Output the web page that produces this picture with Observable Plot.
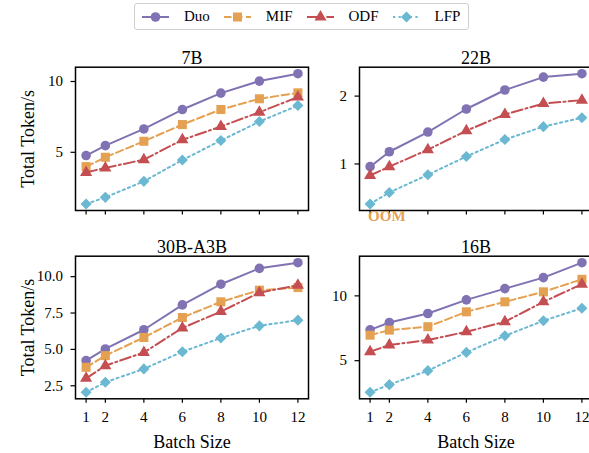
<!DOCTYPE html>
<html><head><meta charset="utf-8">
<script src="https://cdn.jsdelivr.net/npm/d3@7"></script>
<script src="https://cdn.jsdelivr.net/npm/@observablehq/plot@0.6"></script>
<style>
body{margin:0;background:#fff;}
#root{position:relative;width:589px;height:453px;overflow:hidden;font-family:"Liberation Serif","Times New Roman",Times,"DejaVu Serif",serif;color:#000;}
#root svg text{font-family:"Liberation Serif","Times New Roman",Times,"DejaVu Serif",serif;}
.panel{position:absolute;}
#legend{position:absolute;left:134px;top:3px;height:27px;box-sizing:border-box;border:1px solid #cfcfcf;border-radius:3px;background:#fff;display:flex;align-items:center;padding:0 8px 0 7px;font-size:15px;}
.item{display:flex;align-items:center;margin-right:14px;}
.item:last-child{margin-right:0;}
.item svg{margin-right:15px;display:block;}
</style>
</head><body>
<div id="root"><div id="legend"></div></div>
<script>
const batchSizes = [1, 2, 4, 6, 8, 10, 12];
const seriesNames = ["Duo", "MIF", "ODF", "LFP"];
const panelTitles = ["7B", "22B", "30B-A3B", "16B"];
const xLabel = "Batch Size";
const yLabel = "Total Token/s";
const oomLabel = "OOM";

// 7B
const duo7B = [4.77, 5.47, 6.65, 8.02, 9.18, 10.03, 10.55];
const mif7B = [3.99, 4.65, 5.78, 6.96, 8.02, 8.78, 9.20];
const odf7B = [3.58, 3.90, 4.48, 5.88, 6.82, 7.83, 8.90];
const lfp7B = [1.35, 1.82, 2.95, 4.46, 5.83, 7.17, 8.30];
// 22B (MIF: OOM)
const duo22B = [0.96, 1.18, 1.47, 1.81, 2.09, 2.28, 2.33];
const mif22B = null;
const odf22B = [0.83, 0.96, 1.21, 1.49, 1.73, 1.89, 1.94];
const lfp22B = [0.41, 0.58, 0.84, 1.11, 1.36, 1.55, 1.68];
// 30B-A3B
const duo30B = [4.23, 5.03, 6.35, 8.06, 9.48, 10.57, 10.96];
const mif30B = [3.77, 4.57, 5.82, 7.19, 8.27, 9.07, 9.25];
const odf30B = [3.01, 3.88, 4.79, 6.47, 7.60, 8.90, 9.41];
const lfp30B = [2.05, 2.74, 3.66, 4.84, 5.78, 6.62, 7.01];
// 16B
const duo16B = [7.38, 7.95, 8.64, 9.69, 10.56, 11.41, 12.56];
const mif16B = [6.97, 7.36, 7.62, 8.77, 9.54, 10.31, 11.28];
const odf16B = [5.69, 6.21, 6.59, 7.23, 8.00, 9.54, 10.90];
const lfp16B = [2.56, 3.15, 4.23, 5.64, 6.92, 8.08, 9.05];

const yTicks7B = [5, 10];
const yTicks22B = [1, 2];
const yTicks30B = [2.5, 5, 7.5, 10];
const yTicks16B = [5, 10];

const colors = {Duo: "#8172b3", MIF: "#e5a152", ODF: "#c44e52", LFP: "#6ab8d2"};
const dashes = {Duo: null, MIF: "7.5,3.5", ODF: "11,3.2,2,3.2", LFP: "2.2,3.4"};
const symbols = {Duo: "circle", MIF: "square", ODF: "triangle", LFP: "diamond2"};
const radii = {Duo: 4.8, MIF: 5.1, ODF: 4.5, LFP: 5.0};

const panelData = [
  [duo7B, mif7B, odf7B, lfp7B],
  [duo22B, mif22B, odf22B, lfp22B],
  [duo30B, mif30B, odf30B, lfp30B],
  [duo16B, mif16B, odf16B, lfp16B]
];
const panelTicks = [yTicks7B, yTicks22B, yTicks30B, yTicks16B];
const panelFormats = [d3.format("d"), d3.format("d"), d3.format(".1f"), d3.format("d")];

const layout = [
  {left: 0, top: 36, width: 310, height: 200, mL: 75, mR: 2, mT: 30.7, mB: 26, yl: true, xl: false},
  {left: 310, top: 36, width: 284, height: 200, mL: 49, mR: 2, mT: 30.7, mB: 26, yl: false, xl: false},
  {left: 0, top: 236, width: 310, height: 217, mL: 75, mR: 2, mT: 19.7, mB: 54.7, yl: true, xl: true},
  {left: 310, top: 236, width: 284, height: 217, mL: 49, mR: 2, mT: 19.7, mB: 54.7, yl: false, xl: true}
];

const root = document.getElementById("root");
const font = "'Liberation Serif', 'Times New Roman', Times, 'DejaVu Serif', serif";

panelTitles.forEach((title, i) => {
  const L = layout[i];
  const seriesArrays = panelData[i];
  const rows = [];
  const missing = [];
  seriesNames.forEach((s, k) => {
    const arr = seriesArrays[k];
    if (!arr) { missing.push(s); return; }
    arr.forEach((v, j) => rows.push({series: s, batch: batchSizes[j], value: v}));
  });
  const lo = d3.min(rows, d => d.value), hi = d3.max(rows, d => d.value);
  const pad = (hi - lo) * 0.05;
  const xpad = (d3.max(batchSizes) - d3.min(batchSizes)) * 0.05;

  const marks = [];
  seriesNames.forEach(s => {
    const sr = rows.filter(d => d.series === s);
    if (!sr.length) return;
    marks.push(Plot.line(sr, {x: "batch", y: "value", stroke: colors[s], strokeWidth: 2, strokeDasharray: dashes[s] || undefined}));
    marks.push(Plot.dot(sr, {x: "batch", y: "value", symbol: symbols[s], r: radii[s], fill: colors[s], stroke: "none"}));
  });
  marks.push(Plot.frame({stroke: "black", strokeWidth: 1.5}));
  marks.push(Plot.axisX({ticks: batchSizes, tickSize: 4.5, tickPadding: 8, fontSize: 15, label: null,
    tickFormat: L.xl ? d3.format("d") : () => "", stroke: "black", strokeWidth: 1.2}));
  marks.push(Plot.axisY({ticks: panelTicks[i], tickSize: 4.5, tickPadding: 8, fontSize: 15, label: null, tickFormat: panelFormats[i], stroke: "black", strokeWidth: 1.2}));
  marks.push(Plot.text([title], {text: d => d, frameAnchor: "top", lineAnchor: "bottom", dy: -3, fontSize: 18}));
  if (L.yl) marks.push(Plot.text([yLabel], {text: d => d, frameAnchor: "left", textAnchor: "middle", lineAnchor: "middle", rotate: -90, dx: -47, fontSize: 18}));
  if (L.xl) marks.push(Plot.text([xLabel], {text: d => d, frameAnchor: "bottom", textAnchor: "middle", lineAnchor: "middle", dy: 43, fontSize: 18}));
  missing.forEach(s => {
    marks.push(Plot.text([{batch: batchSizes[0], label: oomLabel}], {x: "batch", text: "label", frameAnchor: "bottom", textAnchor: "start", lineAnchor: "middle", dx: -2, dy: 6, fill: colors[s], fontWeight: "bold", fontSize: 15}));
  });

  const chart = Plot.plot({
    width: L.width, height: L.height,
    marginLeft: L.mL, marginRight: L.mR, marginTop: L.mT, marginBottom: L.mB,
    x: {domain: [d3.min(batchSizes) - xpad, d3.max(batchSizes) + xpad]},
    y: {domain: [lo - pad, hi + pad]},
    style: {fontFamily: font, color: "black", background: "transparent", overflow: "visible"},
    marks
  });
  chart.classList.add("panel");
  chart.style.left = L.left + "px";
  chart.style.top = L.top + "px";
  root.appendChild(chart);
});

// legend
const legend = document.getElementById("legend");
const symMap = {circle: d3.symbolCircle, square: d3.symbolSquare, triangle: d3.symbolTriangle, diamond2: d3.symbolDiamond2};
seriesNames.forEach(s => {
  const item = document.createElement("div");
  item.className = "item";
  const svg = d3.create("svg").attr("width", 27).attr("height", 14);
  svg.append("line").attr("x1", 0).attr("x2", 27).attr("y1", 7).attr("y2", 7)
    .attr("stroke", colors[s]).attr("stroke-width", 2).attr("stroke-dasharray", dashes[s]);
  svg.append("path").attr("transform", "translate(13.5,7)")
    .attr("d", d3.symbol(symMap[symbols[s]], Math.PI * radii[s] * radii[s])())
    .attr("fill", colors[s]);
  item.appendChild(svg.node());
  const lab = document.createElement("span");
  lab.textContent = s;
  item.appendChild(lab);
  legend.appendChild(item);
});
</script>
</body></html>
